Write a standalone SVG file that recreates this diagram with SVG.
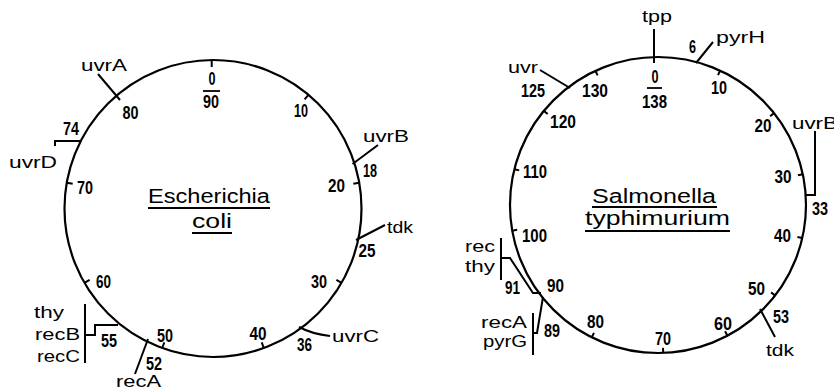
<svg xmlns="http://www.w3.org/2000/svg" width="834" height="391" viewBox="0 0 834 391">
<style>
.ring{fill:none;stroke:#000;stroke-width:2.2}
.k{fill:none;stroke:#000;stroke-width:2;stroke-linecap:butt}
.ul{stroke:#000;stroke-width:1.8}
.g{font-family:"Liberation Sans",Arial,sans-serif;font-size:17px;fill:#000}
.n{font-family:"Liberation Sans",Arial,sans-serif;font-size:18px;font-weight:bold;fill:#000;text-anchor:middle}
.ti{font-family:"Liberation Sans",Arial,sans-serif;font-size:20px;fill:#000}
</style>
<rect width="834" height="391" fill="#fff"/>

<g id="ecoli">
  <circle class="ring" cx="213" cy="208.5" r="148.5"/>
  <g id="ecoli-ticks">
    <path class="k" d="M211.7,60 V67 M308.4,94.8 L304.6,99.3 M359.2,182.7 L353.3,183.8 M341.6,282.8 L336.4,279.8 M263.8,348 L261.7,342.4 M162.2,348 L164.3,342.4 M84.4,282.8 L89.6,279.8 M66.8,182.7 L72.7,183.8"/>
    <line class="ul" x1="203" y1="91" x2="220" y2="91"/>
  </g>
  <g id="ecoli-connectors">
    <path class="k" d="M120,100 L98,74"/>
    <path class="k" d="M352.5,164 L378,145"/>
    <path class="k" d="M356,240 L385,225"/>
    <path class="k" d="M299,327 Q312,334 330,336"/>
    <path class="k" d="M148,339 L135,374"/>
    <path class="k" d="M85,304 V363 M85,335 H95 V325 H118"/>
    <path class="k" d="M55,146 V141 H81"/>
  </g>
  <g id="ecoli-numbers">
    <text class="n" x="212" y="85" textLength="7" lengthAdjust="spacingAndGlyphs">0</text>
    <text class="n" x="211" y="108" textLength="16" lengthAdjust="spacingAndGlyphs">90</text>
    <text class="n" x="301" y="117" textLength="14" lengthAdjust="spacingAndGlyphs">10</text>
    <text class="n" x="370" y="177" textLength="14" lengthAdjust="spacingAndGlyphs">18</text>
    <text class="n" x="336.5" y="192" textLength="17" lengthAdjust="spacingAndGlyphs">20</text>
    <text class="n" x="367" y="257" textLength="17" lengthAdjust="spacingAndGlyphs">25</text>
    <text class="n" x="319" y="288" textLength="16" lengthAdjust="spacingAndGlyphs">30</text>
    <text class="n" x="304.5" y="351" textLength="15" lengthAdjust="spacingAndGlyphs">36</text>
    <text class="n" x="258" y="340" textLength="17" lengthAdjust="spacingAndGlyphs">40</text>
    <text class="n" x="165" y="342" textLength="16" lengthAdjust="spacingAndGlyphs">50</text>
    <text class="n" x="154" y="370" textLength="16" lengthAdjust="spacingAndGlyphs">52</text>
    <text class="n" x="109" y="347" textLength="16" lengthAdjust="spacingAndGlyphs">55</text>
    <text class="n" x="103.5" y="288" textLength="15" lengthAdjust="spacingAndGlyphs">60</text>
    <text class="n" x="85" y="194" textLength="16" lengthAdjust="spacingAndGlyphs">70</text>
    <text class="n" x="71" y="135" textLength="16" lengthAdjust="spacingAndGlyphs">74</text>
    <text class="n" x="130.5" y="119" textLength="16" lengthAdjust="spacingAndGlyphs">80</text>
  </g>
  <g id="ecoli-genes">
    <text class="g" x="81" y="71" textLength="46" lengthAdjust="spacingAndGlyphs">uvrA</text>
    <text class="g" x="9" y="168" textLength="48" lengthAdjust="spacingAndGlyphs">uvrD</text>
    <text class="g" x="363" y="142" textLength="46" lengthAdjust="spacingAndGlyphs">uvrB</text>
    <text class="g" x="387" y="233" textLength="26" lengthAdjust="spacingAndGlyphs">tdk</text>
    <text class="g" x="332" y="342" textLength="47" lengthAdjust="spacingAndGlyphs">uvrC</text>
    <text class="g" x="34" y="318" textLength="30" lengthAdjust="spacingAndGlyphs">thy</text>
    <text class="g" x="35" y="340" textLength="45" lengthAdjust="spacingAndGlyphs">recB</text>
    <text class="g" x="37" y="362" textLength="43" lengthAdjust="spacingAndGlyphs">recC</text>
    <text class="g" x="116" y="387" textLength="45" lengthAdjust="spacingAndGlyphs">recA</text>
  </g>
  <g id="ecoli-title">
    <text class="ti" x="148" y="203" textLength="122" lengthAdjust="spacingAndGlyphs">Escherichia</text>
    <line class="ul" x1="148" y1="208" x2="270" y2="208"/>
    <text class="ti" x="192" y="228" textLength="40" lengthAdjust="spacingAndGlyphs">coli</text>
    <line class="ul" x1="192" y1="233" x2="232" y2="233"/>
  </g>
</g>

<g id="salmonella">
  <circle class="ring" cx="658" cy="205" r="148"/>
  <g id="salm-ticks">
    <path class="k" d="M720.1,70.6 L718,75.2 M774,113.1 L770.1,116.2 M802.8,174.2 L797.9,175.3 M802.3,238 L797.4,236.9 M775.1,295.5 L771.1,292.4 M727.5,335.7 L725.1,331.3 M663.2,352.9 L663,347.9 M591.7,337.3 L594,332.9 M512.3,230.7 L517.2,229.8 M514.4,169.2 L519.2,170.4 M543.8,110.9 L547.7,114 M595.5,70.9 L597.6,75.4"/>
    <line class="ul" x1="647" y1="88" x2="662" y2="88"/>
  </g>
  <g id="salm-connectors">
    <path class="k" d="M654,29 V63"/>
    <path class="k" d="M696,63 L713,42"/>
    <path class="k" d="M805,195 H815 V131"/>
    <path class="k" d="M760,309 L775,337"/>
    <path class="k" d="M543,297 L537,333 H533 M533,313 V355"/>
    <path class="k" d="M501,238 V280 M501,258 H510 L533,293 H541"/>
    <path class="k" d="M570,88 L540,70"/>
  </g>
  <g id="salm-numbers">
    <text class="n" x="655" y="83" textLength="7" lengthAdjust="spacingAndGlyphs">0</text>
    <text class="n" x="654.5" y="108" textLength="25" lengthAdjust="spacingAndGlyphs">138</text>
    <text class="n" x="692.5" y="53" textLength="7" lengthAdjust="spacingAndGlyphs">6</text>
    <text class="n" x="719" y="94" textLength="16" lengthAdjust="spacingAndGlyphs">10</text>
    <text class="n" x="763" y="132" textLength="17" lengthAdjust="spacingAndGlyphs">20</text>
    <text class="n" x="783" y="183" textLength="17" lengthAdjust="spacingAndGlyphs">30</text>
    <text class="n" x="820" y="215" textLength="16" lengthAdjust="spacingAndGlyphs">33</text>
    <text class="n" x="782.5" y="242" textLength="17" lengthAdjust="spacingAndGlyphs">40</text>
    <text class="n" x="756.5" y="295" textLength="17" lengthAdjust="spacingAndGlyphs">50</text>
    <text class="n" x="781" y="323" textLength="16" lengthAdjust="spacingAndGlyphs">53</text>
    <text class="n" x="723" y="330" textLength="18" lengthAdjust="spacingAndGlyphs">60</text>
    <text class="n" x="663" y="345" textLength="16" lengthAdjust="spacingAndGlyphs">70</text>
    <text class="n" x="595.5" y="328" textLength="17" lengthAdjust="spacingAndGlyphs">80</text>
    <text class="n" x="552" y="337" textLength="16" lengthAdjust="spacingAndGlyphs">89</text>
    <text class="n" x="555.5" y="292" textLength="17" lengthAdjust="spacingAndGlyphs">90</text>
    <text class="n" x="512.5" y="294" textLength="15" lengthAdjust="spacingAndGlyphs">91</text>
    <text class="n" x="534.5" y="242" textLength="25" lengthAdjust="spacingAndGlyphs">100</text>
    <text class="n" x="535" y="178" textLength="24" lengthAdjust="spacingAndGlyphs">110</text>
    <text class="n" x="563" y="128" textLength="26" lengthAdjust="spacingAndGlyphs">120</text>
    <text class="n" x="533" y="97" textLength="24" lengthAdjust="spacingAndGlyphs">125</text>
    <text class="n" x="595" y="97" textLength="26" lengthAdjust="spacingAndGlyphs">130</text>
  </g>
  <g id="salm-genes">
    <text class="g" x="642" y="22" textLength="30" lengthAdjust="spacingAndGlyphs">tpp</text>
    <text class="g" x="716" y="43" textLength="49" lengthAdjust="spacingAndGlyphs">pyrH</text>
    <text class="g" x="792" y="129" textLength="46" lengthAdjust="spacingAndGlyphs">uvrB</text>
    <text class="g" x="766" y="356" textLength="28" lengthAdjust="spacingAndGlyphs">tdk</text>
    <text class="g" x="508" y="73" textLength="30" lengthAdjust="spacingAndGlyphs">uvr</text>
    <text class="g" x="465" y="252" textLength="30" lengthAdjust="spacingAndGlyphs">rec</text>
    <text class="g" x="465" y="272" textLength="30" lengthAdjust="spacingAndGlyphs">thy</text>
    <text class="g" x="481" y="328" textLength="46" lengthAdjust="spacingAndGlyphs">recA</text>
    <text class="g" x="483" y="347" textLength="44" lengthAdjust="spacingAndGlyphs">pyrG</text>
  </g>
  <g id="salm-title">
    <text class="ti" x="592" y="203" textLength="124" lengthAdjust="spacingAndGlyphs">Salmonella</text>
    <line class="ul" x1="592" y1="207" x2="717" y2="207"/>
    <text class="ti" x="585" y="225" textLength="145" lengthAdjust="spacingAndGlyphs">typhimurium</text>
    <line class="ul" x1="585" y1="231" x2="730" y2="231"/>
  </g>
</g>
</svg>
